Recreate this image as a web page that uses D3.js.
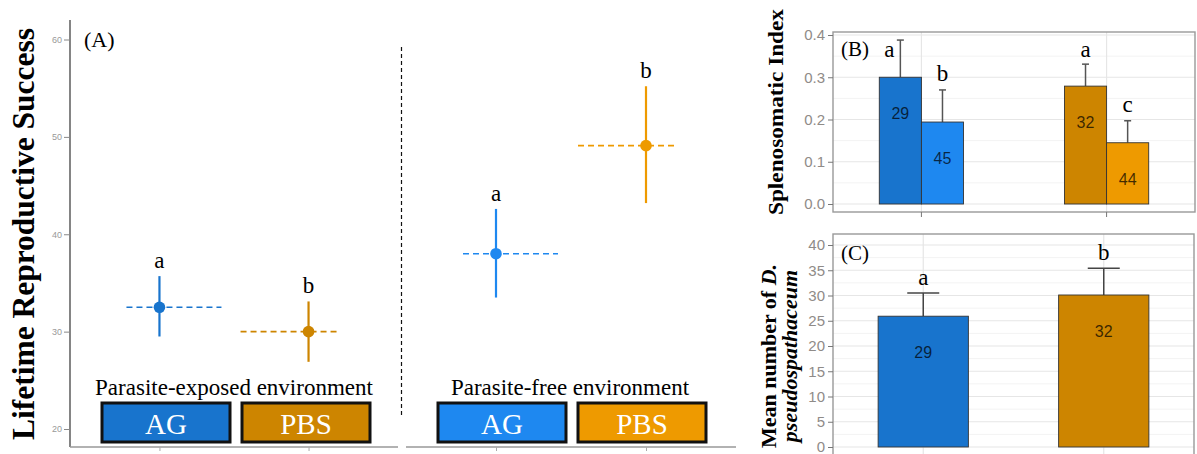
<!DOCTYPE html>
<html>
<head>
<meta charset="utf-8">
<script src="https://cdn.jsdelivr.net/npm/d3@7"></script>
<style>
  body { margin: 0; background: #fff; }
  svg { display: block; }
</style>
</head>
<body>
<div id="chart"></div>
<script>
// ---- data ----
// panel A : lifetime reproductive success
var envNames = ["Parasite-exposed environment", "Parasite-free environment"];
var groups = ["AG", "PBS"];
var lrsMean = [[32.5, 30.0], [38.0, 49.1]];
var lrsLow = [[29.5, 26.9], [33.5, 43.2]];
var lrsHigh = [[35.7, 33.1], [42.6, 55.2]];
var lrsLetters = [["a", "b"], ["a", "b"]];
var lrsTicks = [20, 30, 40, 50, 60];

// panel B : splenosomatic index
var siGroups = ["exposed", "free"];
var siMean = [[0.300, 0.194], [0.279, 0.145]];
var siUpper = [[0.388, 0.270], [0.331, 0.197]];
var siN = [["29", "45"], ["32", "44"]];
var siLetters = [["a", "b"], ["a", "c"]];
var siTicks = [0.0, 0.1, 0.2, 0.3, 0.4];

// panel C : parasite load
var dpGroups = ["AG", "PBS"];
var dpMean = [25.9, 30.1];
var dpUpper = [30.5, 35.4];
var dpN = ["29", "32"];
var dpLetters = ["a", "b"];
var dpTicks = [0, 5, 10, 15, 20, 25, 30, 35, 40];

// colours (dark = parasite exposed, light = parasite free)
var colDark = { AG: "#1874CD", PBS: "#CD8500" };
var colLight = { AG: "#1E88F0", PBS: "#EE9A00" };

var SERIF = "'Liberation Serif', 'Times New Roman', serif";
var SANS = "'Liberation Sans', Arial, sans-serif";

var W = 1197, H = 454;
var svg = d3.select("#chart").append("svg")
    .attr("width", W)
    .attr("height", H);

function serifText(x, y, size, txt) {
    return svg.append("text")
        .attr("x", x).attr("y", y)
        .style("font-family", SERIF)
        .style("font-size", size + "px")
        .text(txt);
}

// =================== panel A ===================
var yA = d3.scaleLinear().domain([20, 60]).range([429, 39.5]);
var facets = [[70, 398], [406, 736]];
var baseA = 447;

// left axis
svg.append("line")
    .attr("x1", 70).attr("x2", 70)
    .attr("y1", 20).attr("y2", baseA)
    .attr("stroke", "#666").attr("stroke-width", 1.6);

svg.append("g")
    .attr("transform", "translate(70,0)")
    .call(d3.axisLeft(yA).tickValues(lrsTicks).tickSize(6).tickPadding(2))
    .call(function (g) {
        g.select(".domain").remove();
        g.selectAll("line").attr("stroke", "#888");
        g.selectAll("text").attr("fill", "#999").style("font-family", SANS).style("font-size", "9px");
    });

// y title
svg.append("text")
    .attr("transform", "translate(34,234) rotate(-90)")
    .attr("text-anchor", "middle")
    .attr("textLength", 412)
    .attr("lengthAdjust", "spacingAndGlyphs")
    .style("font-family", SERIF)
    .style("font-size", "31px")
    .style("font-weight", "bold")
    .text("Lifetime Reproductive Success");

serifText(84, 47, 22, "(A)");

// facet separator
svg.append("line")
    .attr("x1", 401.5).attr("x2", 401.5)
    .attr("y1", 47).attr("y2", 418)
    .attr("stroke", "#111").attr("stroke-width", 1.2)
    .attr("stroke-dasharray", "4,3");

var dashOffset = { AG: [-33, 62], PBS: [-68, 32] };

facets.forEach(function (f, i) {
    var x = d3.scalePoint().domain(groups).range(f).padding(0.6);
    var cols = i === 0 ? colDark : colLight;

    // bottom axis segment
    svg.append("g")
        .attr("transform", "translate(0," + baseA + ")")
        .call(d3.axisBottom(x).tickSize(4).tickFormat(""))
        .call(function (g) {
            g.select(".domain").attr("stroke", "#999").attr("stroke-width", 1.6)
                .attr("d", "M" + f[0] + ",0H" + f[1]);
            g.selectAll("line").attr("stroke", "#aaa");
        });

    groups.forEach(function (grp, j) {
        var cx = x(grp), cy = yA(lrsMean[i][j]);
        svg.append("line")
            .attr("x1", cx + dashOffset[grp][0]).attr("x2", cx + dashOffset[grp][1])
            .attr("y1", cy).attr("y2", cy)
            .attr("stroke", cols[grp]).attr("stroke-width", 1.6)
            .attr("stroke-dasharray", "6,4");
        svg.append("line")
            .attr("x1", cx).attr("x2", cx)
            .attr("y1", yA(lrsLow[i][j])).attr("y2", yA(lrsHigh[i][j]))
            .attr("stroke", cols[grp]).attr("stroke-width", 2.2);
        svg.append("circle")
            .attr("cx", cx).attr("cy", cy).attr("r", 5.8)
            .attr("fill", cols[grp]);
        serifText(cx, yA(lrsHigh[i][j]) - 8, 23, lrsLetters[i][j])
            .attr("text-anchor", "middle");
    });

    // environment label
    serifText((f[0] + f[1]) / 2 - (i === 0 ? 0 : 1), 395, 23, envNames[i])
        .attr("text-anchor", "middle");

    // legend boxes
    groups.forEach(function (grp, j) {
        var bx = f[0] + 32 + j * 140;
        svg.append("rect")
            .attr("x", bx).attr("y", 403)
            .attr("width", 128).attr("height", 39)
            .attr("fill", cols[grp])
            .attr("stroke", "#111").attr("stroke-width", 3);
        serifText(bx + 64, 434, 29, grp)
            .attr("text-anchor", "middle")
            .attr("fill", "#fff");
    });
});

// helper for gridded panels
function gridPanel(box, y, ticks, minor, xs) {
    var g = svg.append("g");
    minor.forEach(function (v) {
        g.append("line").attr("x1", box.x0).attr("x2", box.x1)
            .attr("y1", y(v)).attr("y2", y(v))
            .attr("stroke", "#f3f3f3").attr("stroke-width", 1);
    });
    ticks.forEach(function (v) {
        g.append("line").attr("x1", box.x0).attr("x2", box.x1)
            .attr("y1", y(v)).attr("y2", y(v))
            .attr("stroke", "#e6e6e6").attr("stroke-width", 1.2);
    });
    xs.forEach(function (v) {
        g.append("line").attr("x1", v).attr("x2", v)
            .attr("y1", box.y0).attr("y2", box.y1)
            .attr("stroke", "#e6e6e6").attr("stroke-width", 1.2);
    });
    return g;
}

function styleLeftAxis(g, size) {
    g.select(".domain").remove();
    g.selectAll("line").attr("stroke", "#777");
    g.selectAll("text").attr("fill", "#8f8b88").style("font-family", SANS).style("font-size", size);
}

// =================== panel B ===================
var boxB = { x0: 833, x1: 1195, y0: 32, y1: 212 };
var yB = d3.scaleLinear().domain([0, 0.4]).range([204, 35]);
var xB = d3.scaleBand().domain(siGroups).range([boxB.x0, boxB.x1]).paddingInner(0.545).paddingOuter(0.25);
var subB = d3.scaleBand().domain(groups).range([0, xB.bandwidth()]);

var minorB = [0.05, 0.15, 0.25, 0.35];
gridPanel(boxB, yB, siTicks, minorB, siGroups.map(function (d) { return xB(d) + xB.bandwidth() / 2; }));

// bar j within env i: first bar = dark (exposed), second = light (free)
var siColors = [[colDark.AG, colLight.AG], [colDark.PBS, colLight.PBS]];

siGroups.forEach(function (env, i) {
    groups.forEach(function (grp, j) {
        var bx = xB(env) + subB(grp);
        var bw = subB.bandwidth();
        var top = yB(siMean[i][j]);
        var ex = bx + bw / 2;
        svg.append("line")
            .attr("x1", ex).attr("x2", ex)
            .attr("y1", top).attr("y2", yB(siUpper[i][j]))
            .attr("stroke", "#555").attr("stroke-width", 1.5);
        svg.append("line")
            .attr("x1", ex - 3.5).attr("x2", ex + 3.5)
            .attr("y1", yB(siUpper[i][j])).attr("y2", yB(siUpper[i][j]))
            .attr("stroke", "#555").attr("stroke-width", 1.5);
        svg.append("rect")
            .attr("x", bx).attr("y", top)
            .attr("width", bw).attr("height", yB(0) - top)
            .attr("fill", siColors[i][j])
            .attr("stroke", "#333").attr("stroke-width", 0.9);
        svg.append("text")
            .attr("x", ex).attr("y", top + 42)
            .attr("text-anchor", "middle")
            .attr("fill", "#000").attr("fill-opacity", 0.72)
            .style("font-family", SANS)
            .style("font-size", "16px")
            .text(siN[i][j]);
        var ly = Math.max(yB(siUpper[i][j]) - 9, 57);
        serifText(ex + (i === 0 && j === 0 ? -11 : 0), ly, 23, siLetters[i][j])
            .attr("text-anchor", "middle");
    });
});

svg.append("rect")
    .attr("x", boxB.x0).attr("y", boxB.y0)
    .attr("width", boxB.x1 - boxB.x0).attr("height", boxB.y1 - boxB.y0)
    .attr("fill", "none").attr("stroke", "#999").attr("stroke-width", 1.4);

svg.append("g")
    .attr("transform", "translate(" + boxB.x0 + ",0)")
    .call(d3.axisLeft(yB).tickValues(siTicks).tickFormat(d3.format(".1f")).tickSize(5).tickPadding(3))
    .call(function (g) { styleLeftAxis(g, "15px"); });

svg.append("g")
    .attr("transform", "translate(0," + boxB.y1 + ")")
    .call(d3.axisBottom(xB).tickSize(5).tickFormat(""))
    .call(function (g) {
        g.select(".domain").remove();
        g.selectAll("line").attr("stroke", "#777");
    });

serifText(841, 56, 21, "(B)");

svg.append("text")
    .attr("transform", "translate(783,112) rotate(-90)")
    .attr("text-anchor", "middle")
    .attr("textLength", 206)
    .attr("lengthAdjust", "spacingAndGlyphs")
    .style("font-family", SERIF)
    .style("font-size", "22px")
    .style("font-weight", "bold")
    .text("Splenosomatic Index");

// =================== panel C ===================
var boxC = { x0: 833, x1: 1194, y0: 234, y1: 470 };
var yC = d3.scaleLinear().domain([0, 40]).range([447, 245]);
var xC = d3.scaleBand().domain(dpGroups).range([boxC.x0, boxC.x1]).paddingInner(0.5).paddingOuter(0.25);

var minorC = [2.5, 7.5, 12.5, 17.5, 22.5, 27.5, 32.5, 37.5];
gridPanel(boxC, yC, dpTicks, minorC, dpGroups.map(function (d) { return xC(d) + xC.bandwidth() / 2; }));

dpGroups.forEach(function (grp, i) {
    var bx = xC(grp), bw = xC.bandwidth();
    var ex = bx + bw / 2;
    var top = yC(dpMean[i]);
    svg.append("line")
        .attr("x1", ex).attr("x2", ex)
        .attr("y1", top).attr("y2", yC(dpUpper[i]))
        .attr("stroke", "#444").attr("stroke-width", 1.5);
    svg.append("line")
        .attr("x1", ex - 16).attr("x2", ex + 16)
        .attr("y1", yC(dpUpper[i])).attr("y2", yC(dpUpper[i]))
        .attr("stroke", "#444").attr("stroke-width", 1.5);
    svg.append("rect")
        .attr("x", bx).attr("y", top)
        .attr("width", bw).attr("height", yC(0) - top)
        .attr("fill", colDark[grp])
        .attr("stroke", "#333").attr("stroke-width", 0.9);
    svg.append("text")
        .attr("x", ex).attr("y", top + 42)
        .attr("text-anchor", "middle")
        .attr("fill", "#000").attr("fill-opacity", 0.72)
        .style("font-family", SANS)
        .style("font-size", "16px")
        .text(dpN[i]);
    serifText(ex, yC(dpUpper[i]) - 8, 23, dpLetters[i])
        .attr("text-anchor", "middle");
});

svg.append("rect")
    .attr("x", boxC.x0).attr("y", boxC.y0)
    .attr("width", boxC.x1 - boxC.x0).attr("height", boxC.y1 - boxC.y0)
    .attr("fill", "none").attr("stroke", "#999").attr("stroke-width", 1.4);

svg.append("g")
    .attr("transform", "translate(" + boxC.x0 + ",0)")
    .call(d3.axisLeft(yC).tickValues(dpTicks).tickSize(5).tickPadding(3))
    .call(function (g) { styleLeftAxis(g, "15px"); });

serifText(841, 260, 21, "(C)");

var titleC = svg.append("text")
    .attr("transform", "translate(776,356) rotate(-90)")
    .attr("text-anchor", "middle")
    .style("font-family", SERIF)
    .style("font-size", "22px")
    .style("font-weight", "bold");
titleC.append("tspan").attr("x", 0).attr("dy", 0).text("Mean number of ");
titleC.append("tspan").style("font-style", "italic").text("D.");
titleC.append("tspan").attr("x", 0).attr("dy", 21).style("font-style", "italic").text("pseudospathaceum");
</script>
</body>
</html>
